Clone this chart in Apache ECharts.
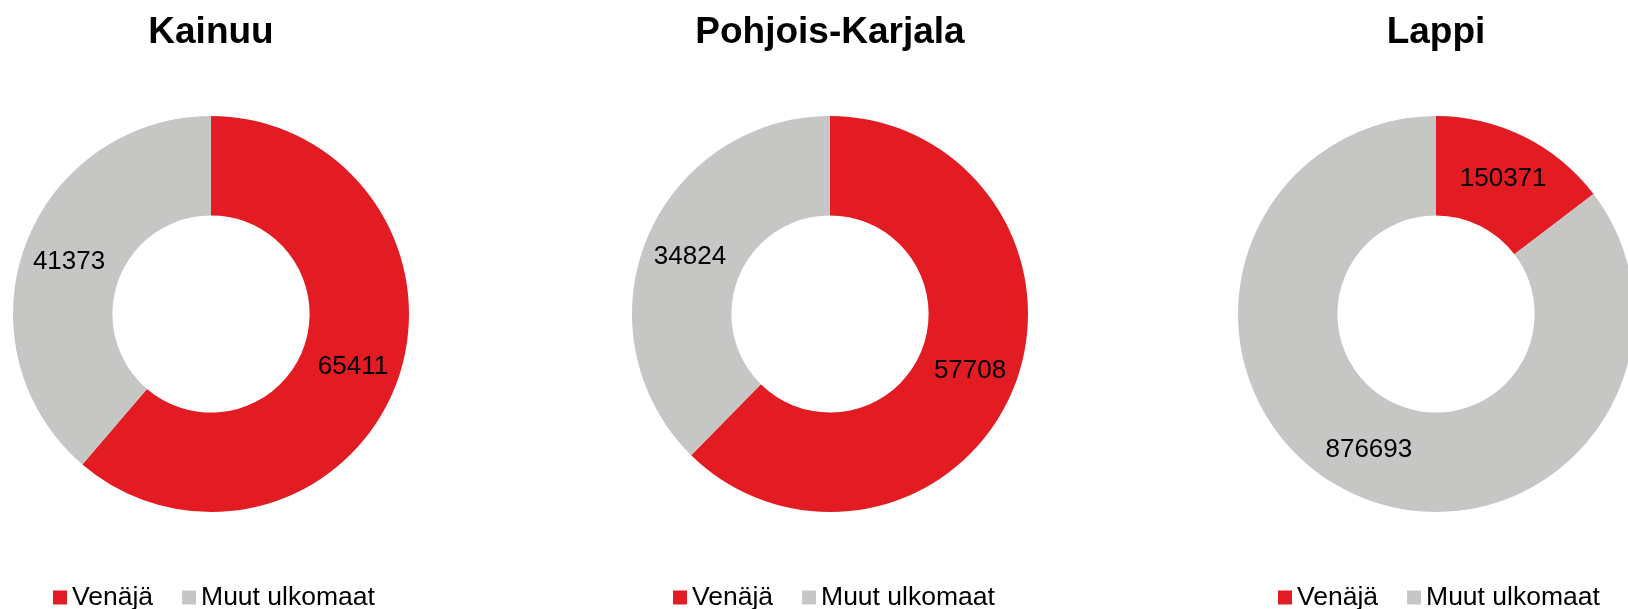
<!DOCTYPE html>
<html>
<head>
<meta charset="utf-8">
<script src="https://cdn.jsdelivr.net/npm/echarts@6/dist/echarts.min.js"></script>
<style>
html,body{margin:0;padding:0;background:#fff;}
#chart{width:1628px;height:609px;}
</style>
</head>
<body>
<div id="chart"></div>
<script>
const regions = ['Kainuu', 'Pohjois-Karjala', 'Lappi'];
const categories = ['Venäjä', 'Muut ulkomaat'];
const venaja = [65411, 57708, 150371];
const muut = [41373, 34824, 876693];
const colors = ['#E31B23', '#C6C6C5'];

const centersX = [211, 830, 1436];
const centerY = 314;
const legendLeft = [53, 673, 1278];

const chart = echarts.init(document.getElementById('chart'));
const font = '"Liberation Sans", Arial, sans-serif';

const option = {
  animation: false,
  color: colors,
  title: regions.map((r, i) => ({
    text: r,
    left: centersX[i],
    top: 14,
    padding: 0,
    textAlign: 'center',
    textStyle: { fontFamily: font, fontWeight: 'bold', fontSize: 37, color: '#000' }
  })),
  legend: regions.map((r, i) => ({
    data: categories,
    left: legendLeft[i],
    top: 584,
    orient: 'horizontal',
    icon: 'rect',
    itemWidth: 14,
    itemHeight: 14,
    itemGap: 29,
    padding: 0,
    selectedMode: false,
    textStyle: { fontFamily: font, fontSize: 26.5, color: '#000' }
  })),
  series: regions.map((r, i) => ({
    type: 'pie',
    name: r,
    center: [centersX[i], centerY],
    radius: [98.6, 198],
    startAngle: 90,
    clockwise: true,
    avoidLabelOverlap: false,
    emphasis: { disabled: true },
    itemStyle: { borderWidth: 0 },
    label: {
      show: true,
      position: 'inside',
      formatter: '{c}',
      fontFamily: font,
      fontSize: 26,
      color: '#000'
    },
    labelLine: { show: false },
    data: [
      { name: categories[0], value: venaja[i] },
      { name: categories[1], value: muut[i] }
    ]
  }))
};
chart.setOption(option);
</script>
</body>
</html>
